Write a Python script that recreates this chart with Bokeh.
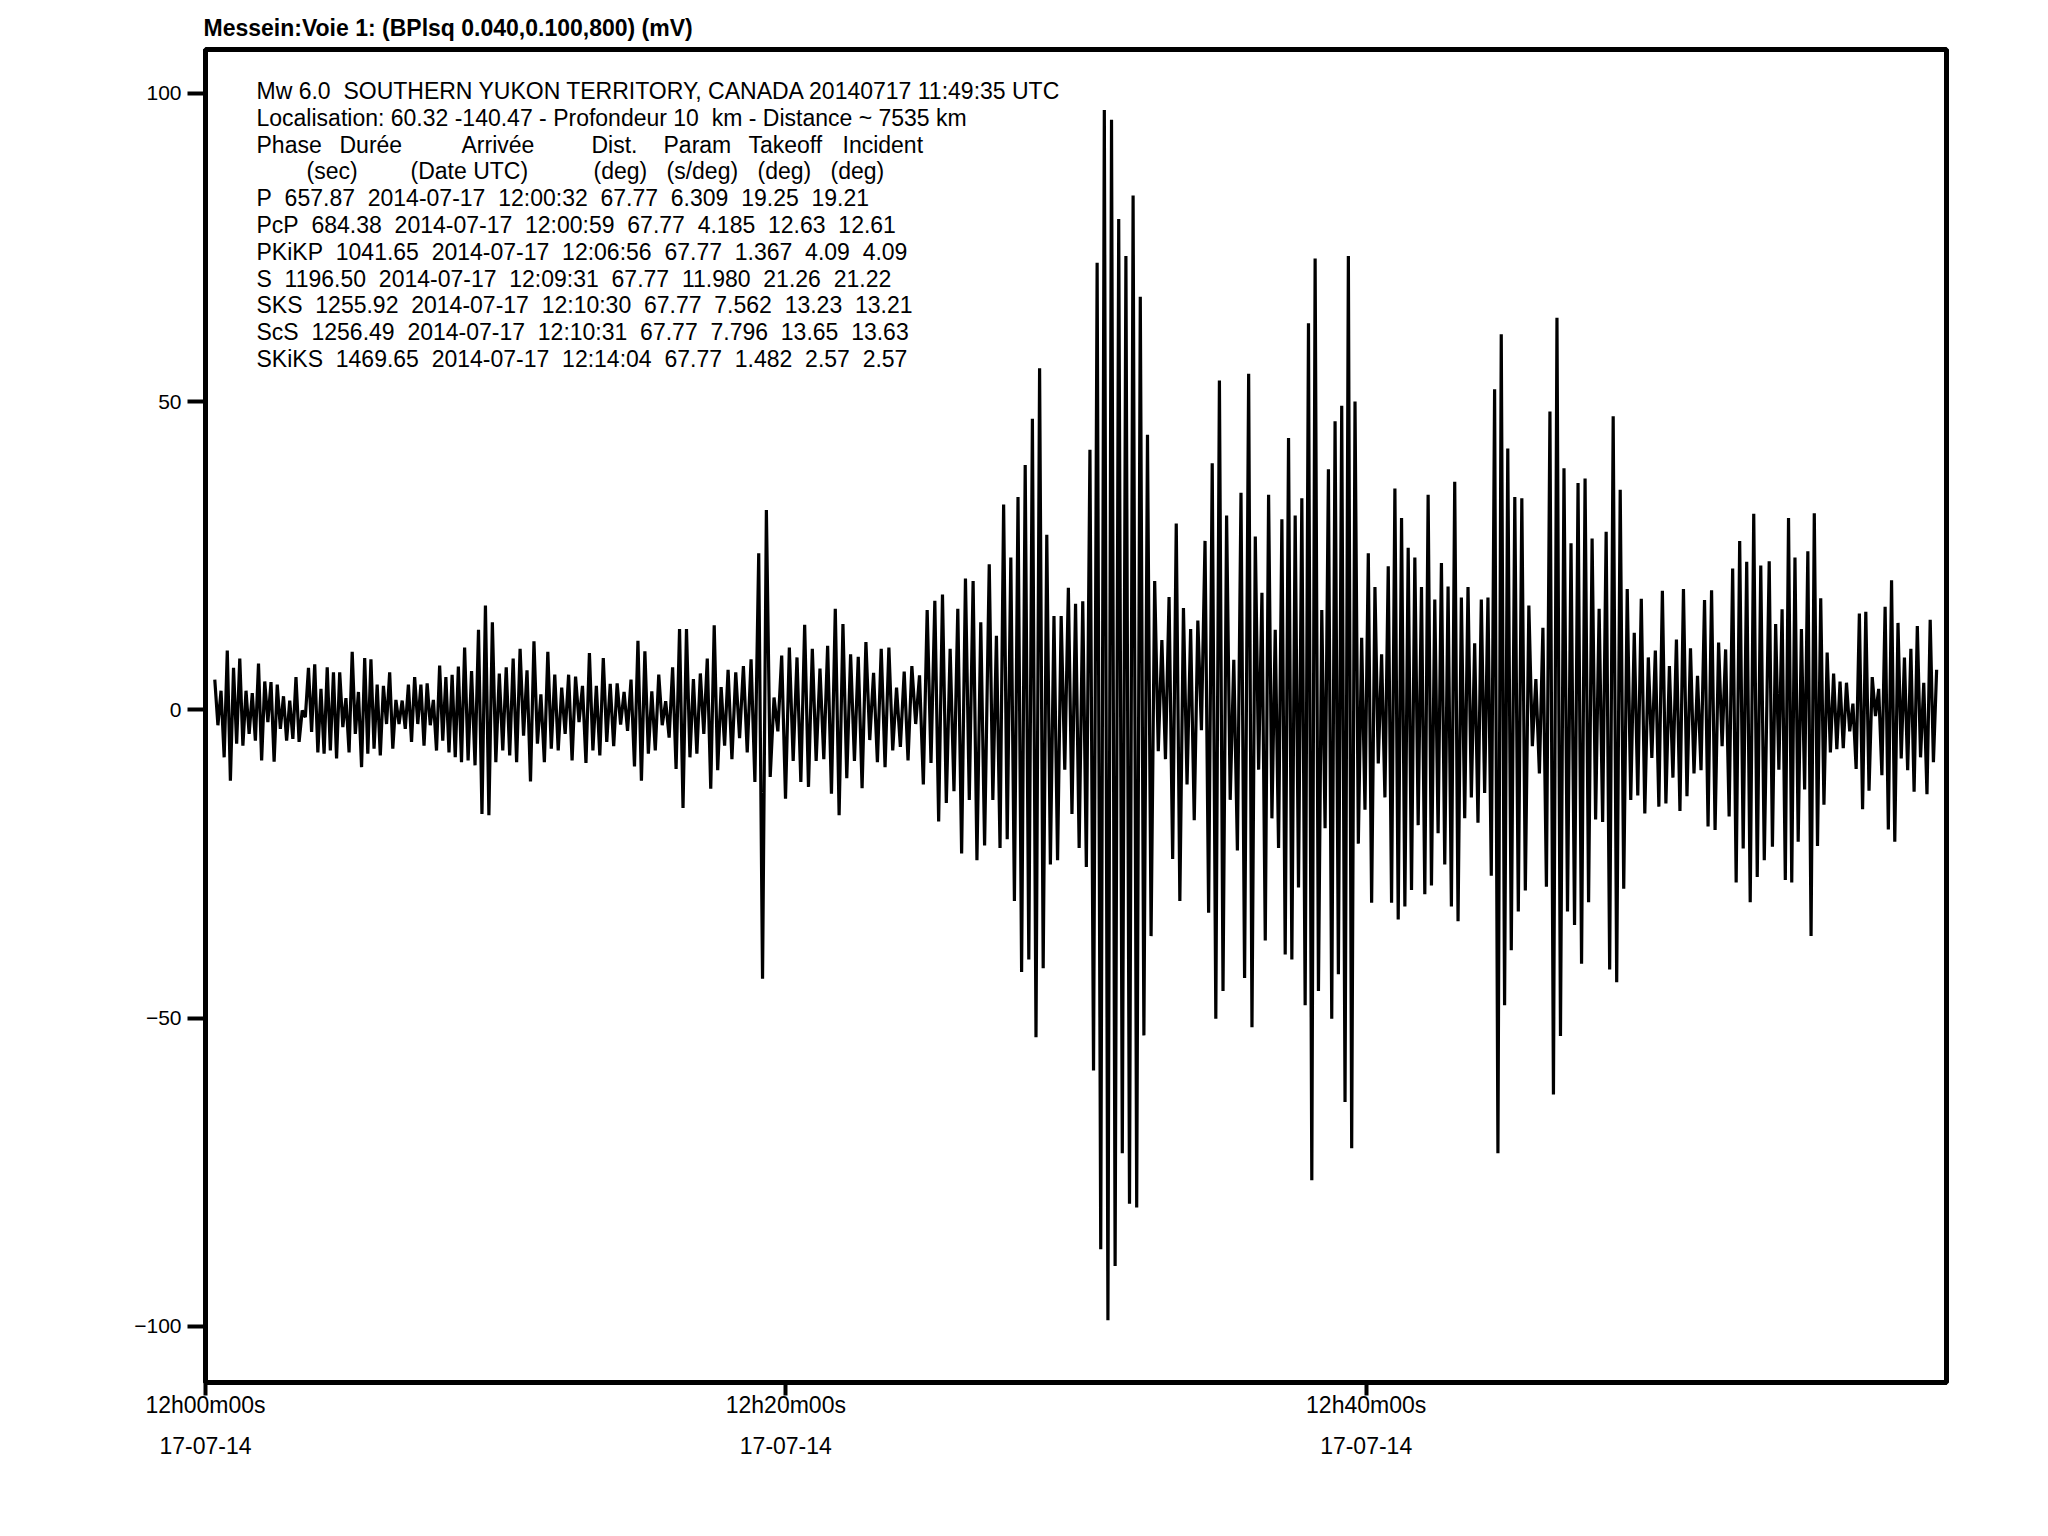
import numpy as np
from bokeh.plotting import figure
from bokeh.models import Range1d, FixedTicker, LinearAxis, Label, ColumnDataSource
from bokeh.embed import file_html
from bokeh.resources import INLINE

# Messein station, channel 1, band-passed (mV); time in minutes after 12:00:00 UTC on 2014-07-17
# trace read off the plot as successive peaks / troughs, one list per stretch of trace
seg_start = [0.32, 9.05, 18.01, 27.01, 35.95, 44.88, 53.89]
seg_end = [8.93, 17.89, 26.85, 35.81, 44.77, 53.72, 59.66]

seg1 = [4.9, -2.5, 3.1, -7.7, 9.6, -11.5, 6.8, -5.5, 8.3, -5.8, 3.1, -3.9, 2.7, -5.0, 7.5, -8.2,
        4.6, -2.0, 4.5, -8.4, 4.1, -3.1, 2.2, -5.0, 1.5, -4.7, 5.3, -5.2, -0.1, -1.2, 6.8, -3.6,
        7.4, -6.9, 3.4, -7.1, 6.9, -6.6, 6.1, -7.9, 6.1, -2.8, 1.9, -6.9, 9.4, -3.9, 2.9, -9.3,
        8.4, -7.1, 8.2, -6.3, 4.1, -7.4, 3.9, -2.3, 6.1, -6.3, 1.6, -2.3, 1.5, -3.1, 4.1, -5.2,
        5.3, -2.3, 4.1, -5.8, 4.3, -2.5, 1.6, -6.6, 7.2, -5.0, 5.3, -6.9, 5.7, -7.7, 7.0, -8.5, 10.1]
seg2 = [-8.2, 6.3, -9.0, 13.0, -16.9, 16.9, -17.1, 14.2, -8.5, 5.9, -6.6, 6.9, -7.4, 8.3, -8.5, 9.9,
        -4.2, 6.4, -11.6, 11.1, -5.5, 2.5, -8.5, 9.4, -6.3, 5.7, -6.6, 3.6, -3.9, 5.7, -8.2, 5.4,
        -2.0, 3.9, -8.6, 9.2, -6.6, 3.9, -7.4, 8.4, -5.2, 4.2, -5.9, 4.3, -2.4, 2.9, -3.4, 4.9,
        -9.2, 11.2, -11.5, 9.5, -7.1, 3.0, -6.6, 5.7, -2.5, 1.4, -4.5, 6.9, -9.6, 13.1, -15.9, 13.1,
        -7.7, 5.0, -7.1, 5.9, -3.9, 8.3, -12.8, 13.7, -9.8, 3.7, -5.8]
seg3 = [6.5, -8.0, 6.1, -4.6, 7.1, -6.9, 8.2, -11.7, 25.4, -43.6, 32.4, -10.9, 2.0, -3.5, 8.8, -14.4,
        10.1, -8.3, 8.5, -11.7, 13.8, -12.5, 9.9, -8.3, 6.7, -8.0, 10.4, -13.6, 16.4, -17.1, 13.9, -11.1,
        9.0, -8.3, 8.6, -12.7, 11.0, -4.9, 6.0, -8.5, 9.9, -9.3, 10.1, -6.6, 3.6, -6.0, 6.2, -8.2,
        7.1, -2.3, 5.6, -12.1, 16.2, -8.6, 17.7, -18.1, 18.7, -15.1, 9.9, -13.2, 16.4, -23.3, 21.3, -14.6,
        20.9, -24.4, 14.2, -22.0]
seg4 = [23.6, -14.6, 12.0, -22.4, 33.3, -21.0, 24.7, -31.0, 34.5, -42.5, 39.7, -40.5, 47.2, -53.1, 55.4, -41.9,
        28.4, -25.1, 15.2, -24.4, 15.2, -9.7, 19.8, -16.9, 17.2, -22.4, 17.6, -25.5, 42.2, -58.5, 72.5, -87.5,
        97.3, -99.0, 95.7, -90.2, 79.6, -71.9, 73.6, -80.1, 83.4, -80.7, 67.0, -52.8, 44.6, -36.7, 20.9, -6.7,
        11.3, -8.0, 18.3, -24.2, 30.2, -31.0, 16.5, -12.1, 13.1, -17.9, 14.5, -3.3, 27.4, -32.9, 40.0, -50.1,
        53.4, -45.6, 31.5, -14.6, 8.1, -22.8, 35.2, -43.5]
seg5 = [54.5, -51.5, 28.1, -9.7, 19.0, -37.4, 34.9, -17.6, 13.0, -22.4, 30.9, -39.7, 44.1, -40.5, 31.5, -28.8,
        34.3, -47.9, 62.7, -76.3, 73.2, -45.6, 16.2, -19.2, 39.0, -50.1, 46.8, -42.9, 49.3, -63.6, 73.6, -71.1,
        50.0, -21.7, 11.7, -16.2, 25.4, -31.3, 19.9, -8.7, 9.0, -14.2, 23.3, -31.3, 35.9, -34.0, 31.1, -31.9,
        26.3, -29.2, 24.7, -18.7, 19.9, -29.9, 34.9, -28.5, 17.9, -20.0, 23.8, -25.1, 20.0, -31.9, 37.0, -34.3,
        18.2, -17.6, 19.9, -14.2, 10.8, -18.3, 17.9, -13.5, 18.2, -26.9, 52.0, -71.9, 60.9, -47.9]
seg6 = [42.4, -39.0, 34.5, -32.7, 34.3, -29.3, 16.9, -5.9, 5.0, -10.3, 13.3, -28.7, 48.4, -62.4, 63.6, -52.9,
        39.2, -32.7, 27.0, -34.9, 36.8, -41.2, 37.5, -31.2, 27.8, -17.8, 16.4, -18.2, 28.9, -42.1, 47.6, -44.2,
        35.7, -29.0, 19.6, -14.6, 12.5, -13.9, 18.0, -16.8, 8.5, -7.8, 9.6, -15.7, 19.3, -15.2, 7.1, -11.0,
        11.4, -16.4, 19.6, -14.0, 10.0, -10.3, 5.5, -9.8, 17.8, -18.9, 19.4, -19.5, 10.9, -5.9, 9.8, -17.3,
        22.9, -28.0, 27.4, -22.5, 24.0, -31.2, 31.8, -27.1, 23.4, -24.4]
seg7 = [24.1, -22.2, 13.9, -9.7, 16.3, -27.6, 31.1, -28.0, 24.7, -21.4, 13.1, -12.9, 25.7, -36.7, 31.9, -22.1,
        18.1, -15.4, 9.3, -6.9, 5.9, -6.4, 4.6, -6.2, 4.4, -3.5, 1.0, -9.6, 15.6, -16.1, 15.9, -13.1,
        5.3, -1.0, 3.4, -10.6, 16.7, -19.4, 21.0, -21.4, 14.1, -7.9, 8.5, -9.8, 9.9, -13.3, 13.6, -7.7,
        4.4, -13.7, 14.6, -8.5, 6.5]

tick_minutes = [0, 20, 40]
tick_times = ["12h00m00s", "12h20m00s", "12h40m00s"]
tick_dates = ["17-07-14", "17-07-14", "17-07-14"]
y_ticks = [-100, -50, 0, 50, 100]

title = "Messein:Voie 1: (BPlsq 0.040,0.100,800) (mV)"
event = "Mw 6.0  SOUTHERN YUKON TERRITORY, CANADA 20140717 11:49:35 UTC"
location = "Localisation: 60.32 -140.47 - Profondeur 10  km - Distance ~ 7535 km"
header = ["Phase", "Durée", "Arrivée", "Dist.", "Param", "Takeoff", "Incident"]
units = ["(sec)", "(Date UTC)", "(deg)", "(s/deg)", "(deg)", "(deg)"]
phases = ["P", "PcP", "PKiKP", "S", "SKS", "ScS", "SKiKS"]
durations = ["657.87", "684.38", "1041.65", "1196.50", "1255.92", "1256.49", "1469.65"]
arrivals = ["2014-07-17  12:00:32", "2014-07-17  12:00:59", "2014-07-17  12:06:56", "2014-07-17  12:09:31",
            "2014-07-17  12:10:30", "2014-07-17  12:10:31", "2014-07-17  12:14:04"]
dists = ["67.77"] * 7
params = ["6.309", "4.185", "1.367", "11.980", "7.562", "7.796", "1.482"]
takeoffs = ["19.25", "12.63", "4.09", "21.26", "13.23", "13.65", "2.57"]
incidents = ["19.21", "12.61", "4.09", "21.22", "13.21", "13.63", "2.57"]

segments = [seg1, seg2, seg3, seg4, seg5, seg6, seg7]
t = np.concatenate([np.linspace(a, b, len(s)) for a, b, s in zip(seg_start, seg_end, segments)])
v = np.concatenate([np.array(s, dtype=float) for s in segments])
source = ColumnDataSource(data=dict(t=t, v=v))

FONT = "Liberation Sans"


def keep_spaces(s):
    return s.replace("  ", "\u00a0 ")


p = figure(width=2030, height=1500, output_backend="svg", toolbar_location=None,
           x_range=Range1d(0, 60), y_range=Range1d(-109.1, 107.1),
           min_border_left=205, min_border_right=84, min_border_top=49, min_border_bottom=118)
p.background_fill_color = "white"
p.border_fill_color = "white"
p.grid.visible = False
p.outline_line_color = "black"
p.outline_line_width = 5

p.title.text = title
p.title.align = "left"
p.title.text_font = FONT
p.title.text_font_size = "23px"
p.title.text_font_style = "bold"
p.title.text_color = "black"
p.title.offset = -2
p.title.standoff = 17

p.line("t", "v", source=source, line_color="black", line_width=3.2)

# x axis: time labels, then a second row with the date
p.xaxis.ticker = FixedTicker(ticks=tick_minutes)
p.xaxis.major_label_overrides = dict(zip(tick_minutes, tick_times))
p.xaxis.minor_tick_line_color = None
p.xaxis.axis_line_width = 5
p.xaxis.major_tick_line_width = 4
p.xaxis.major_tick_in = 0
p.xaxis.major_tick_out = 13
p.xaxis.major_label_standoff = -4
p.xaxis.major_label_text_font = FONT
p.xaxis.major_label_text_font_size = "23px"
p.xaxis.major_label_text_color = "black"

date_axis = LinearAxis(ticker=FixedTicker(ticks=tick_minutes),
                       major_label_overrides=dict(zip(tick_minutes, tick_dates)),
                       axis_line_color=None, major_tick_line_color=None, minor_tick_line_color=None,
                       major_label_standoff=10, major_label_text_font=FONT,
                       major_label_text_font_size="23px", major_label_text_color="black")
p.add_layout(date_axis, "below")

p.yaxis.ticker = FixedTicker(ticks=y_ticks)
p.yaxis.minor_tick_line_color = None
p.yaxis.axis_line_width = 5
p.yaxis.major_tick_line_width = 4
p.yaxis.major_tick_in = 0
p.yaxis.major_tick_out = 18
p.yaxis.major_label_standoff = 6
p.yaxis.major_label_text_font = FONT
p.yaxis.major_label_text_font_size = "21px"
p.yaxis.major_label_text_color = "black"


def put(text, x, y):
    p.add_layout(Label(x=x, y=y, x_units="screen", y_units="screen", text=keep_spaces(text),
                       text_font=FONT, text_font_size="23px", text_color="black",
                       text_baseline="alphabetic", text_align="left"))


FRAME_H = 1333
top = FRAME_H - 41.5
step = 26.8
put(event, 51, top)
put(location, 51, top - step)
for txt, dx in zip(header, [0, 83, 205, 335, 407, 492, 586]):
    put(txt, 51 + dx, top - 2 * step)
for txt, dx in zip(units, [50, 154, 337, 410, 501, 574]):
    put(txt, 51 + dx, top - 3 * step)
for i in range(len(phases)):
    row = "  ".join([phases[i], durations[i], arrivals[i], dists[i], params[i], takeoffs[i], incidents[i]])
    put(row, 51, top - (4 + i) * step)

open("out.html", "w").write(file_html(p, INLINE))
